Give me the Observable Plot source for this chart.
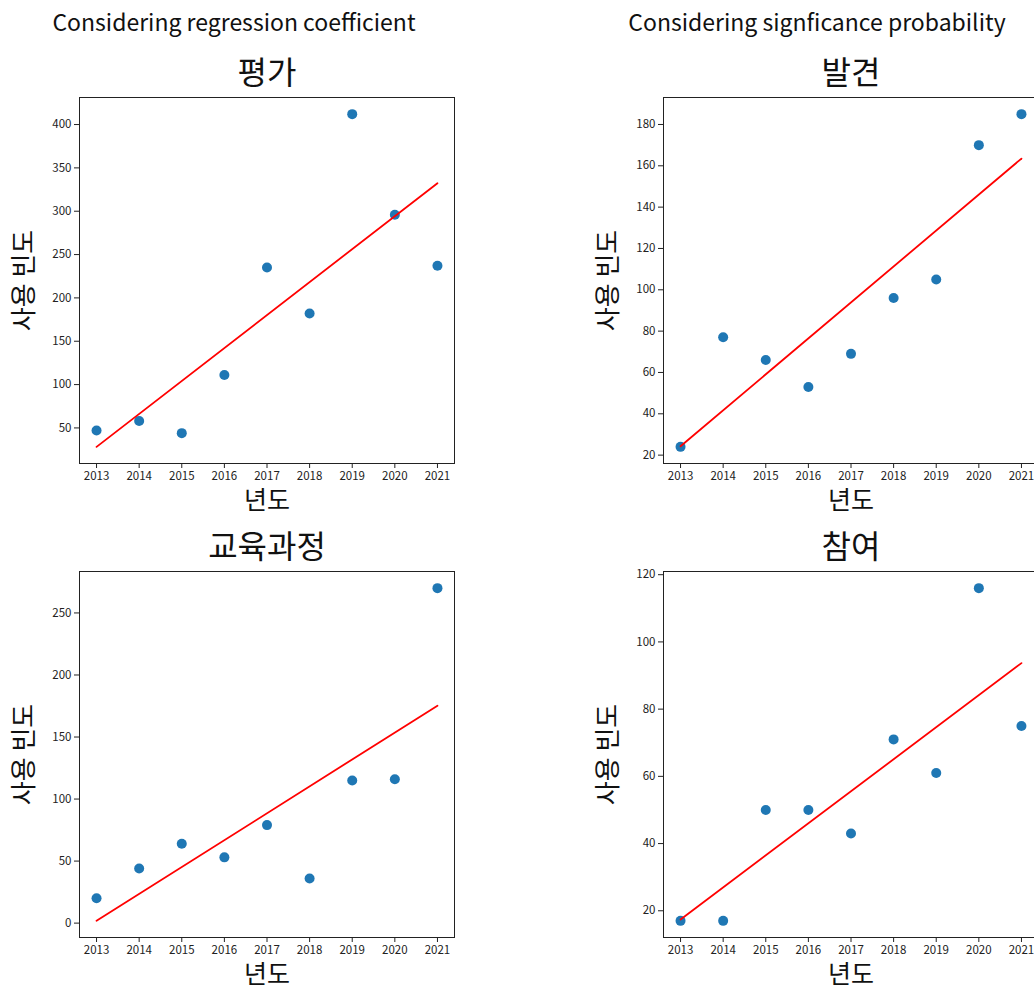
<!DOCTYPE html>
<html>
<head>
<meta charset="utf-8">
<script src="https://cdn.jsdelivr.net/npm/d3@7"></script>
<script src="https://cdn.jsdelivr.net/npm/@observablehq/plot@0.6"></script>
<style>
  html, body { margin: 0; padding: 0; background: #fff; overflow: hidden; }
  #root { position: relative; width: 1034px; height: 988px; overflow: hidden; background: #fff;
          font-family: "Noto Sans CJK KR", "Noto Sans", sans-serif; }
  .hdr { position: absolute; top: 4px; font-size: 23px; color: #111; white-space: nowrap;
         transform: translateX(-50%); font-family: "Noto Sans CJK KR", "Noto Sans", sans-serif; }
  .panel { position: absolute; }
</style>
</head>
<body>
<div id="root"></div>
<script>
// ---- data ----
const years = [2013, 2014, 2015, 2016, 2017, 2018, 2019, 2020, 2021];
const evaluationCounts   = [47, 58, 44, 111, 235, 182, 412, 296, 237];   // 평가
const discoveryCounts    = [24, 77, 66, 53, 69, 96, 105, 170, 185];      // 발견
const curriculumCounts   = [20, 44, 64, 53, 79, 36, 115, 116, 270];      // 교육과정
const participationCounts = [17, 17, 50, 50, 43, 71, 61, 116, 75];       // 참여
const panelTitles = ["평가", "발견", "교육과정", "참여"];
const columnHeaders = ["Considering regression coefficient", "Considering signficance probability"];
const xLabel = "년도";
const yLabel = "사용 빈도";
const yTicksEvaluation = [50, 100, 150, 200, 250, 300, 350, 400];
const yTicksDiscovery = [20, 40, 60, 80, 100, 120, 140, 160, 180];
const yTicksCurriculum = [0, 50, 100, 150, 200, 250];
const yTicksParticipation = [20, 40, 60, 80, 100, 120];

const panels = [
  {title: panelTitles[0], values: evaluationCounts, ticks: yTicksEvaluation, left: 0, top: 40},
  {title: panelTitles[1], values: discoveryCounts, ticks: yTicksDiscovery, left: 584, top: 40},
  {title: panelTitles[2], values: curriculumCounts, ticks: yTicksCurriculum, left: 0, top: 514},
  {title: panelTitles[3], values: participationCounts, ticks: yTicksParticipation, left: 584, top: 514}
];

const root = document.getElementById("root");
const font = '"Noto Sans CJK KR", "Noto Sans", sans-serif';

// headers
[[columnHeaders[0], 234], [columnHeaders[1], 817]].forEach(([t, cx]) => {
  const d = document.createElement("div");
  d.className = "hdr";
  d.style.left = cx + "px";
  d.textContent = t;
  root.appendChild(d);
});

function fitLine(xs, ys) {
  const mx = d3.mean(xs), my = d3.mean(ys);
  const b = d3.sum(xs, (x, i) => (x - mx) * (ys[i] - my)) / d3.sum(xs, x => (x - mx) ** 2);
  return x => my + b * (x - mx);
}

panels.forEach(p => {
  const data = years.map((y, i) => ({year: y, value: p.values[i]}));
  const f = fitLine(years, p.values);
  const all = p.values.concat([f(years[0]), f(years[years.length - 1])]);
  const [lo, hi] = d3.extent(all);
  const pad = (hi - lo) * 0.05;
  const xPad = (years[years.length - 1] - years[0]) * 0.05;

  const chart = Plot.plot({
    width: 517,
    height: 474,
    marginLeft: 79,
    marginRight: 63,
    marginTop: 57,
    marginBottom: 51,
    style: {fontFamily: font, background: "transparent", color: "#222", overflow: "visible"},
    x: {domain: [years[0] - xPad, years[years.length - 1] + xPad]},
    y: {domain: [lo - pad, hi + pad]},
    marks: [
      Plot.axisX({ticks: years, tickFormat: d => String(d), tickSize: 5, tickPadding: 3, label: null, fontSize: 11.5, stroke: "#222"}),
      Plot.axisY({ticks: p.ticks, tickFormat: d => String(d), tickSize: 5, tickPadding: 3, label: null, fontSize: 11.5, stroke: "#222"}),
      Plot.dot(data, {x: "year", y: "value", r: 5, fill: "#1f77b4"}),
      Plot.linearRegressionY(data, {x: "year", y: "value", stroke: "red", strokeWidth: 1.8, ci: 0}),
      Plot.frame({stroke: "#222", strokeWidth: 1}),
      Plot.text([p.title], {frameAnchor: "top", dy: -24, lineAnchor: "middle", fontSize: 32, fill: "#111"}),
      Plot.text([yLabel], {frameAnchor: "left", dx: -55, rotate: -90, lineAnchor: "middle", textAnchor: "middle", fontSize: 26, fill: "#111"}),
      Plot.text([xLabel], {frameAnchor: "bottom", dy: 37, lineAnchor: "middle", fontSize: 25, fill: "#111"})
    ]
  });
  chart.classList.add("panel");
  chart.style.left = p.left + "px";
  chart.style.top = p.top + "px";
  chart.style.position = "absolute";
  root.appendChild(chart);
});
</script>
</body>
</html>
